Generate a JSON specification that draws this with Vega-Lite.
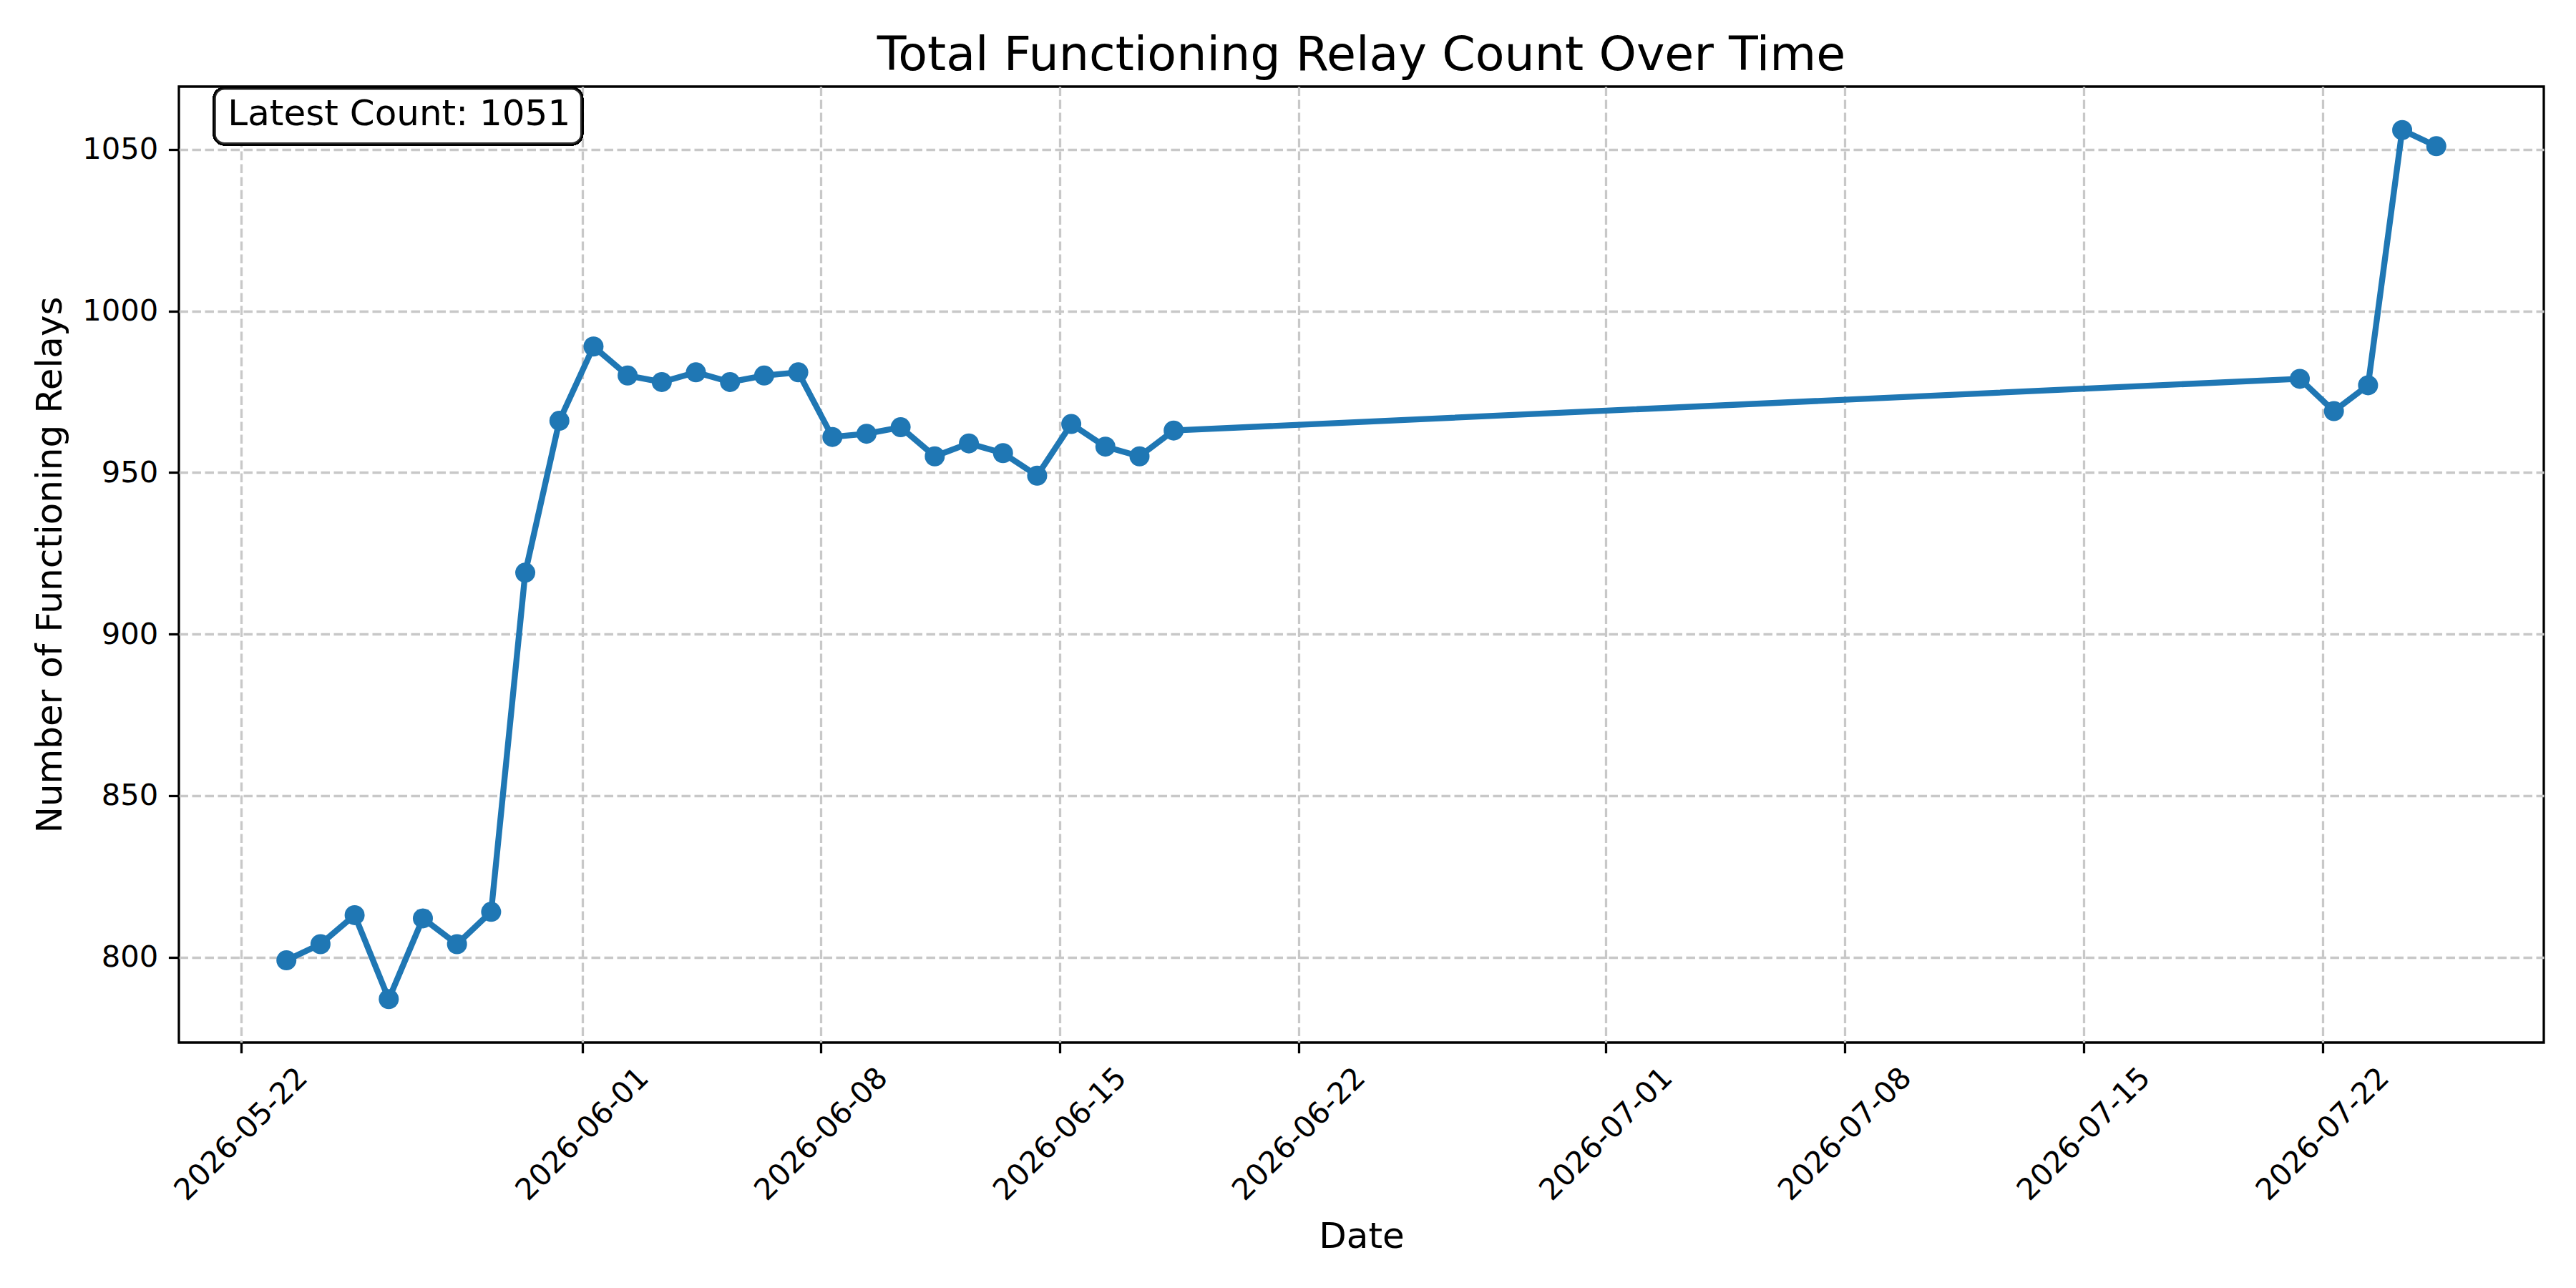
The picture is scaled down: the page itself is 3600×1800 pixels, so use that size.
{
  "$schema": "https://vega.github.io/schema/vega-lite/v6.json",
  "autosize": {"type": "none"},
  "padding": {"left": 250, "top": 121, "right": 45, "bottom": 343},
  "width": 3305,
  "height": 1336,
  "background": "white",
  "title": {
    "text": "Total Functioning Relay Count Over Time",
    "font": "DejaVu Sans",
    "fontSize": 66.7,
    "fontWeight": "normal",
    "color": "black",
    "anchor": "middle",
    "baseline": "alphabetic",
    "offset": 25,
    "dy": 69
  },
  "data": {
    "format": {"parse": {"date": "date"}},
    "values": [
      {"date": "2026-05-23T08:00:00", "count": 799},
      {"date": "2026-05-24T08:00:00", "count": 804},
      {"date": "2026-05-25T08:00:00", "count": 813},
      {"date": "2026-05-26T08:00:00", "count": 787},
      {"date": "2026-05-27T08:00:00", "count": 812},
      {"date": "2026-05-28T08:00:00", "count": 804},
      {"date": "2026-05-29T08:00:00", "count": 814},
      {"date": "2026-05-30T08:00:00", "count": 919},
      {"date": "2026-05-31T08:00:00", "count": 966},
      {"date": "2026-06-01T08:00:00", "count": 989},
      {"date": "2026-06-02T08:00:00", "count": 980},
      {"date": "2026-06-03T08:00:00", "count": 978},
      {"date": "2026-06-04T08:00:00", "count": 981},
      {"date": "2026-06-05T08:00:00", "count": 978},
      {"date": "2026-06-06T08:00:00", "count": 980},
      {"date": "2026-06-07T08:00:00", "count": 981},
      {"date": "2026-06-08T08:00:00", "count": 961},
      {"date": "2026-06-09T08:00:00", "count": 962},
      {"date": "2026-06-10T08:00:00", "count": 964},
      {"date": "2026-06-11T08:00:00", "count": 955},
      {"date": "2026-06-12T08:00:00", "count": 959},
      {"date": "2026-06-13T08:00:00", "count": 956},
      {"date": "2026-06-14T08:00:00", "count": 949},
      {"date": "2026-06-15T08:00:00", "count": 965},
      {"date": "2026-06-16T08:00:00", "count": 958},
      {"date": "2026-06-17T08:00:00", "count": 955},
      {"date": "2026-06-18T08:00:00", "count": 963},
      {"date": "2026-07-21T08:00:00", "count": 979},
      {"date": "2026-07-22T08:00:00", "count": 969},
      {"date": "2026-07-23T08:00:00", "count": 977},
      {"date": "2026-07-24T08:00:00", "count": 1056},
      {"date": "2026-07-25T08:00:00", "count": 1051}
    ]
  },
  "encoding": {
    "x": {
      "field": "date",
      "type": "temporal",
      "title": "Date",
      "scale": {
        "domain": [
          {"year": 2026, "month": 5, "date": 20, "hours": 4, "minutes": 24},
          {"year": 2026, "month": 7, "date": 28, "hours": 11, "minutes": 36}
        ],
        "nice": false
      },
      "axis": {
        "values": [
          {"year": 2026, "month": 5, "date": 22},
          {"year": 2026, "month": 6, "date": 1},
          {"year": 2026, "month": 6, "date": 8},
          {"year": 2026, "month": 6, "date": 15},
          {"year": 2026, "month": 6, "date": 22},
          {"year": 2026, "month": 7, "date": 1},
          {"year": 2026, "month": 7, "date": 8},
          {"year": 2026, "month": 7, "date": 15},
          {"year": 2026, "month": 7, "date": 22}
        ],
        "format": "%Y-%m-%d",
        "labelAngle": -45,
        "labelAlign": "center",
        "labelBaseline": "middle",
        "labelPadding": 113,
        "titleY": 286,
        "titleBaseline": "alphabetic"
      }
    },
    "y": {
      "field": "count",
      "type": "quantitative",
      "title": "Number of Functioning Relays",
      "scale": {"domain": [773.55, 1069.45], "nice": false, "zero": false},
      "axis": {
        "values": [800, 850, 900, 950, 1000, 1050],
        "format": "d",
        "labelPadding": 14.6,
        "titleX": -165,
        "titleBaseline": "alphabetic"
      }
    }
  },
  "layer": [
    {
      "mark": {"type": "line", "color": "#1f77b4", "strokeWidth": 8.33}
    },
    {
      "mark": {"type": "point", "filled": true, "color": "#1f77b4", "opacity": 1, "size": 784, "shape": "circle"}
    },
    {
      "mark": {
        "type": "rect",
        "fill": "white",
        "fillOpacity": 0.8,
        "stroke": "black",
        "strokeOpacity": 0.8,
        "strokeWidth": 4.17,
        "cornerRadius": 14
      },
      "encoding": {
        "x": {"datum": {"year": 2026, "month": 5, "date": 21, "hours": 5, "minutes": 24}, "type": "temporal"},
        "x2": {"datum": {"year": 2026, "month": 5, "date": 31, "hours": 23, "minutes": 45}},
        "y": {"datum": 1068.9, "type": "quantitative"},
        "y2": {"datum": 1051.7}
      }
    },
    {
      "transform": [
        {"window": [{"op": "row_number", "as": "recency"}], "sort": [{"field": "date", "order": "descending"}]},
        {"filter": "datum.recency === 1"},
        {"calculate": "'Latest Count: ' + datum.count", "as": "label"}
      ],
      "mark": {
        "type": "text",
        "font": "DejaVu Sans",
        "fontSize": 50,
        "color": "black",
        "align": "left",
        "baseline": "alphabetic"
      },
      "encoding": {
        "x": {"datum": {"year": 2026, "month": 5, "date": 21, "hours": 14, "minutes": 47}, "type": "temporal"},
        "y": {"datum": 1057.5, "type": "quantitative"},
        "text": {"field": "label", "type": "nominal"}
      }
    }
  ],
  "config": {
    "font": "DejaVu Sans",
    "view": {"stroke": "black", "strokeWidth": 3.3},
    "axis": {
      "domain": false,
      "grid": true,
      "gridColor": "#c8c8c8",
      "gridWidth": 3.3,
      "gridDash": [12.5, 5.5],
      "ticks": true,
      "tickColor": "black",
      "tickWidth": 3.3,
      "tickSize": 14.6,
      "labelFont": "DejaVu Sans",
      "labelFontSize": 41.67,
      "labelColor": "black",
      "labelOverlap": false,
      "labelBound": false,
      "labelFlush": false,
      "labelLimit": 1000,
      "titleFont": "DejaVu Sans",
      "titleFontSize": 50,
      "titleFontWeight": "normal",
      "titleColor": "black"
    }
  }
}
